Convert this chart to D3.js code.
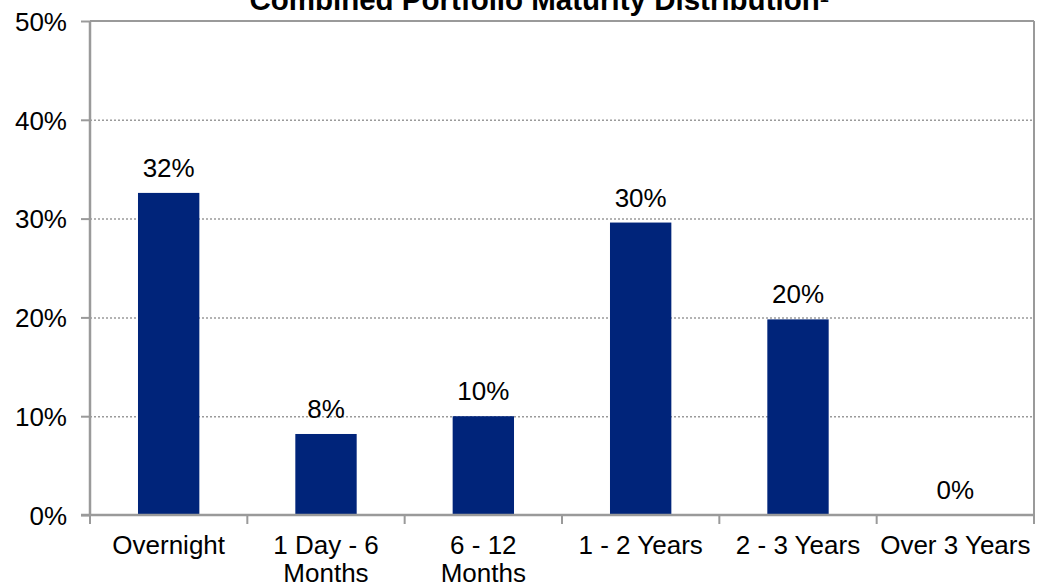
<!DOCTYPE html>
<html><head><meta charset="utf-8">
<script src="https://cdn.jsdelivr.net/npm/d3@7"></script>
<style>body{margin:0;background:#fff}svg{display:block}text{font-family:"Liberation Sans",Arial,sans-serif;fill:#000}</style>
</head><body><svg id="c" width="1044" height="586"></svg>
<script>
const categories = [["Overnight"],["1 Day - 6","Months"],["6 - 12","Months"],["1 - 2 Years"],["2 - 3 Years"],["Over 3 Years"]];
const values = [32.6, 8.2, 10.0, 29.6, 19.8, 0];
const valueLabels = ["32%","8%","10%","30%","20%","0%"];
const yTicks = [0,10,20,30,40,50];
const title = "Combined Portfolio Maturity Distribution";

const svg = d3.select("#c");
const m = {left:90, right:1034, top:21, bottom:515};
const x = d3.scaleBand().domain(d3.range(categories.length)).range([m.left, m.right]).paddingInner(0.61).paddingOuter(0.305);
const y = d3.scaleLinear().domain([0,50]).range([m.bottom, m.top]);
const grey = "#9a9a9a";
const FS = 26;

// gridlines
svg.append("g").selectAll("line").data(yTicks.filter(d=>d>0 && d<50)).join("line")
  .attr("x1", m.left).attr("x2", m.right).attr("y1", d=>y(d)+0.5).attr("y2", d=>y(d)+0.5)
  .attr("stroke", grey).attr("stroke-width",1.5).attr("stroke-dasharray","2,2");
// top & right border
svg.append("line").attr("x1",m.left).attr("x2",m.right).attr("y1",m.top).attr("y2",m.top).attr("stroke",grey).attr("stroke-width",2);
svg.append("line").attr("x1",m.right).attr("x2",m.right).attr("y1",m.top).attr("y2",m.bottom+8).attr("stroke",grey).attr("stroke-width",2);

// bars
svg.append("g").selectAll("rect").data(values).join("rect")
  .attr("x",(d,i)=>x(i)).attr("width",x.bandwidth())
  .attr("y",d=>y(d)).attr("height",d=>m.bottom-y(d)).attr("fill","#00247a");

// value labels
svg.append("g").selectAll("text").data(values).join("text")
  .attr("x",(d,i)=>x(i)+x.bandwidth()/2).attr("y",d=>y(d)-16)
  .attr("text-anchor","middle").attr("font-size",FS).text((d,i)=>valueLabels[i]);

// y axis
const yAxis = d3.axisLeft(y).tickValues(yTicks).tickFormat(d=>d+"%").tickSize(9).tickPadding(14);
const gy = svg.append("g").attr("transform",`translate(${m.left},0)`).call(yAxis);
gy.select(".domain").attr("stroke",grey).attr("stroke-width",2.5).attr("d",`M0,${m.top}V${m.bottom}`);
gy.selectAll(".tick line").attr("stroke",grey).attr("stroke-width",2);
gy.selectAll(".tick text").attr("font-size",FS).attr("font-family","Liberation Sans, Arial, sans-serif").attr("fill","#000").attr("dy","0.36em");

// x axis baseline & ticks
svg.append("line").attr("x1",m.left-9).attr("x2",m.right).attr("y1",m.bottom).attr("y2",m.bottom).attr("stroke",grey).attr("stroke-width",2.5);
const step = x.step();
svg.append("g").selectAll("line").data(d3.range(categories.length+1)).join("line")
  .attr("x1",i=>m.left+i*step).attr("x2",i=>m.left+i*step).attr("y1",m.bottom).attr("y2",m.bottom+9)
  .attr("stroke",grey).attr("stroke-width",2);

// x labels
const xl = svg.append("g").selectAll("text").data(categories).join("text")
  .attr("x",(d,i)=>x(i)+x.bandwidth()/2).attr("y",554).attr("text-anchor","middle").attr("font-size",FS);
xl.selectAll("tspan").data(d=>d).join("tspan")
  .attr("x",function(){return this.parentNode.getAttribute("x");})
  .attr("dy",(d,i)=>i===0?0:28).text(d=>d);

// title
const t = svg.append("text").attr("x",539).attr("y",10).attr("text-anchor","middle")
  .attr("font-size",29.5).attr("font-weight","bold");
t.append("tspan").text(title);
t.append("tspan").attr("font-size",16).attr("dy",-8).text("1");
</script></body></html>
